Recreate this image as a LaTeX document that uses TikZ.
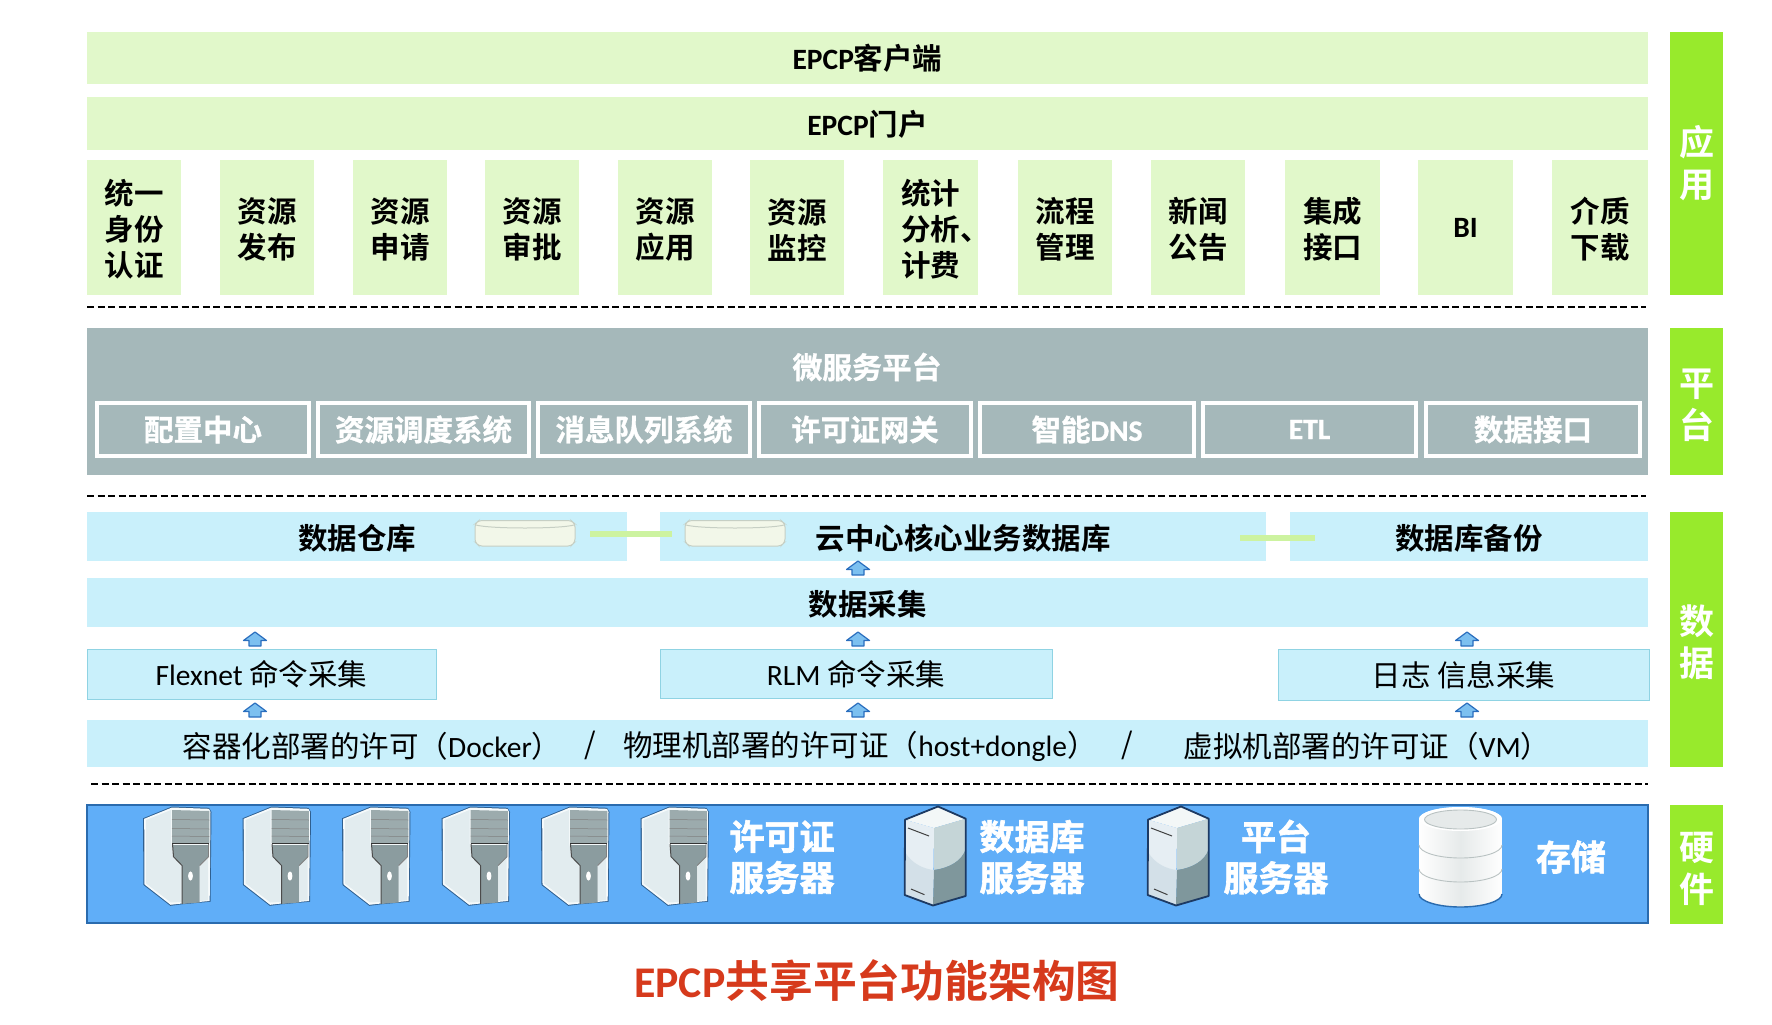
\documentclass[tikz,border=0pt]{standalone}
\usepackage{fontspec}
\setmainfont{Noto Sans CJK SC}[BoldFont=* Bold]
\newfontfamily\lat{Carlito}
\usetikzlibrary{arrows.meta,calc}
\definecolor{appgreen}{HTML}{E1F8CA}
\definecolor{sidegreen}{HTML}{98EA2C}
\definecolor{platgray}{HTML}{A5B8BA}
\definecolor{datablue}{HTML}{C9F0FB}
\definecolor{hwblue}{HTML}{60AEF8}
\definecolor{hwedge}{HTML}{2A6BAE}
\definecolor{titlered}{HTML}{D63A1C}
\definecolor{linkgreen}{HTML}{CDF3A0}
\definecolor{collectedge}{HTML}{8FD3E3}
\definecolor{arrowline}{HTML}{2A6EBE}
\definecolor{arrowfill}{HTML}{7CC0F0}
\definecolor{disk}{HTML}{F2F7E9}
\definecolor{diskedge}{HTML}{C6CFC4}
\definecolor{twlight}{HTML}{E2ECEF}
\definecolor{twwhite}{HTML}{F6FAFB}
\definecolor{twgrille}{HTML}{9CABAD}
\definecolor{twhandle}{HTML}{8B9C9F}
\definecolor{twedge}{HTML}{2F5F8F}
\definecolor{dbtop}{HTML}{F3F7F7}
\definecolor{dbleft}{HTML}{E6EEF3}
\definecolor{dbleftlow}{HTML}{D3E0E8}
\definecolor{dbright}{HTML}{C5D5D7}
\definecolor{dbrightlow}{HTML}{7F979C}
\definecolor{dbedge}{HTML}{1D3A63}
\definecolor{stmid}{HTML}{E6EAEA}
\definecolor{stline}{HTML}{B9C2C2}
\newcommand{\fs}[2]{\fontsize{#1}{#2}\selectfont}
\newcommand{\st}[1]{\rule{0pt}{#1pt}}
\newcommand{\wstroke}[1]{\special{pdf:literal direct 2 Tr #1 w 1 1 1 RG}}
\newcommand{\stroff}{\special{pdf:literal direct 0 Tr}}
\newcommand{\bx}[7]{\node[#6,minimum width={(#4-#2)*1pt},minimum height={(#5-#3)*1pt}] (#1) at ({(#2+#4)/2},{(#3+#5)/2}) {#7};}
\tikzset{
  base/.style={inner sep=0pt,outer sep=0pt,align=center},
  appbar/.style={base,fill=appgreen,font=\fs{29.5}{36}\bfseries},
  appbox/.style={base,fill=appgreen,font=\fs{29.5}{36}\bfseries},
  sidebar/.style={base,fill=sidegreen,text=white,font=\fs{35}{42}\bfseries},
  platbox/.style={base,fill=platgray},
  subbox/.style={base,fill=platgray,preaction={draw=black!38,line width=4.8pt},draw=white,line width=3.4pt,text=white,font=\fs{29.5}{34}\bfseries},
  databar/.style={base,fill=datablue,font=\fs{29.5}{34}\bfseries},
  collectbox/.style={base,fill=datablue,draw=collectedge,line width=1pt,font=\fs{29.5}{34}},
  licbox/.style={base,fill=datablue},
  lictext/.style={base,font=\fs{29.5}{34}},
  hwbox/.style={base,fill=hwblue,draw=hwedge,line width=1.2pt},
  hwlabel/.style={base,text=white,font=\fs{35}{41}\bfseries},
  sep/.style={black,line width=1.6pt,dash pattern=on 7pt off 3.5pt},
  greenlink/.style={linkgreen,line width=6pt},
  uparrow/.style={draw=arrowline,fill=arrowfill,line width=1.2pt,line join=round,
     to path={ ($(\tikztostart)+(-6,-3)$) -- ++(0,-5.5) -- ++(-5.5,0) -- ++(11.5,-8.5) -- ++(11.5,8.5) -- ++(-5.5,0) -- ++(0,5.5) -- cycle }},
  pics/pctower/.style={code={
    \fill[twedge] (0,12.3)--(29,0.5)--(66,1.8)--(68.5,6)--(67.5,95.7)--(39,98.3)--(27.3,99.8)--(0.5,79)--cycle;
    \fill[twwhite] (1.2,12.8)--(29,1.5)--(66,2.8)--(67.5,6)--(66.7,95)--(39,97.5)--(27.6,98.8)--(1.5,78.5)--cycle;
    \fill[twlight] (3,14)--(28,4)--(28,37)--(31,52)--(39,60)--(39,96)--(28,96.5)--(3.2,77.5)--cycle;
    \fill[twlight] (57,60)--(65,52)--(65,94)--(57,95)--cycle;
    \fill[twgrille] (29,4)--(66.3,5)--(66.3,37)--(29,37)--cycle;
    \draw[black!50,line width=.5pt] (29,13.5)--(66.3,14) (29,22.5)--(66.3,23) (29,30)--(66.3,30.5);
    \fill[twhandle] (29.5,39)--(65.5,39)--(65.5,50.7)--(56.7,59.5)--(56.7,96.5)--(39,97.8)--(39,59.5)--(30.5,50.7)--cycle;
    \draw[black!80,line width=1pt] (29,37.5)--(66.3,37.5);
    \draw[black!70,line width=1pt] (29.5,38)--(30.5,50.7)--(39,59.5)--(39,97.8);
    \draw[black!50,line width=.8pt] (65.5,38)--(65.5,50.7)--(56.7,59.5);
    \fill[white] (47.5,70) ellipse (2.4pt and 4.6pt);
  }},
  pics/dbtower/.style={code={
    \fill[dbtop] (34,0.5)--(1,13.7)--(30,22)--(61.7,12.7)--cycle;
    \fill[dbleft] (1,13.7)--(30,22)--(29,99.5)--(0.7,89)--cycle;
    \fill[dbleftlow] (1,46) .. controls (8,58) and (20,63) .. (30,64)--(29,99.5)--(0.7,89)--cycle;
    \fill[dbright] (30,22)--(61.7,12.7)--(61.7,43) .. controls (58,55) and (45,62) .. (30,64)--cycle;
    \fill[dbrightlow] (30,64) .. controls (45,62) and (58,55) .. (61.7,43)--(61.7,90)--(29,99.5)--cycle;
    \draw[dbedge,line width=1.8pt,line join=round] (34,0.5)--(1,13.7)--(0.7,89)--(29,99.5)--(61.7,90)--(61.7,12.7)--cycle;
    \draw[black!75,line width=1pt] (4,22)--(25,30) (7,83)--(20.5,88.7);
  }},
  pics/storage/.style={code={
    \path[left color=white,right color=white,middle color=stmid] (0,12) -- (0,87) arc[start angle=180,end angle=0,x radius=41.5,y radius=13] -- (83,12) arc[start angle=0,end angle=-180,x radius=41.5,y radius=12] -- cycle;
    \draw[hwedge,line width=1.4pt] (0,87) arc[start angle=180,end angle=0,x radius=41.5,y radius=13];
    \draw[stline,line width=.9pt] (0,38) arc[start angle=180,end angle=0,x radius=41.5,y radius=13];
    \draw[stline,line width=.9pt] (0,62) arc[start angle=180,end angle=0,x radius=41.5,y radius=13];
    \fill[white] (41.5,12) ellipse (41.5pt and 12pt);
    \draw[stline,fill=stmid,line width=.9pt] (41.5,12.5) ellipse (36pt and 9.5pt);
  }},
  pics/flatdisk/.style={code={
    \draw[rounded corners=3pt,fill=disk,draw=diskedge,line width=1pt] (0,4) -- (0,22) -- (4,26) -- (96,26) -- (100,22) -- (100,4) -- (96,0.5) -- (4,0.5) -- cycle;
    \draw[diskedge,line width=1pt] (1,5) .. controls (15,9) and (85,9) .. (99,5);
  }},
}
\begin{document}
\begin{tikzpicture}[x=1pt,y=-1pt]
\useasboundingbox (0,0) rectangle (1772,1025);
% ---- application layer
\bx{client}{87}{32}{1648}{84}{appbar}{\st{26}{\lat EPCP}客户端}
\bx{portal}{87}{97}{1648}{150}{appbar}{\st{26}{\lat EPCP}门户}
\bx{a1}{87}{160}{181}{295}{appbox}{\st{29.4}统一\\身份\\认证}
\bx{a2}{220}{160}{314}{295}{appbox}{\st{29.4}资源\\发布}
\bx{a3}{353}{160}{447}{295}{appbox}{\st{29.4}资源\\申请}
\bx{a4}{485}{160}{579}{295}{appbox}{\st{29.4}资源\\审批}
\bx{a5}{618}{160}{712}{295}{appbox}{\st{29.4}资源\\应用}
\bx{a6}{750}{160}{844}{295}{appbox}{\st{29.4}资源\\监控}
\bx{a7}{883}{160}{978}{295}{appbox}{\st{29.4}统计\\分析\rlap{、}\hspace*{8pt}\\计费}
\bx{a8}{1018}{160}{1112}{295}{appbox}{\st{29.4}流程\\管理}
\bx{a9}{1151}{160}{1245}{295}{appbox}{\st{29.4}新闻\\公告}
\bx{a10}{1285}{160}{1380}{295}{appbox}{\st{29.4}集成\\接口}
\bx{a11}{1418}{160}{1513}{295}{appbox}{{\lat BI}}
\bx{a12}{1552}{160}{1648}{295}{appbox}{\st{29.4}介质\\下载}
\bx{sapp}{1670}{32}{1723}{295}{sidebar}{应\\用}
\draw[sep] (87,307) -- (1646,307);
% ---- platform layer
\bx{plat}{87}{328}{1648}{475}{platbox}{}
\node[base,text=white,font=\fs{29.8}{34}\bfseries] (platt) at (867,367) {\wstroke{0.3}微服务平台\stroff};
\bx{p1}{97}{403}{309}{456}{subbox}{\wstroke{0.3}配置中心\stroff}
\bx{p2}{318}{403}{529}{456}{subbox}{\wstroke{0.3}资源调度系统\stroff}
\bx{p3}{538}{403}{750}{456}{subbox}{\wstroke{0.3}消息队列系统\stroff}
\bx{p4}{759}{403}{971}{456}{subbox}{\wstroke{0.3}许可证网关\stroff}
\bx{p5}{980}{403}{1194}{456}{subbox}{\wstroke{0.3}智能{\lat DNS}\stroff}
\bx{p6}{1203}{403}{1416}{456}{subbox}{\wstroke{0.3}{\lat ETL}\stroff}
\bx{p7}{1426}{403}{1640}{456}{subbox}{\wstroke{0.3}数据接口\stroff}
\bx{splat}{1670}{328}{1723}{475}{sidebar}{\st{35}平\\台}
\draw[sep] (87,496) -- (1646,496);
% ---- data layer
\bx{dw}{87}{512}{627}{561}{databar}{\st{28}数据仓库}
\bx{core}{660}{512}{1266}{561}{databar}{\st{28}云中心核心业务数据库}
\bx{bak}{1290}{512}{1648}{561}{databar}{\st{28}数据库备份}
\pic (disk1) at (475,520) {flatdisk};
\pic (disk2) at (685,520) {flatdisk};
\coordinate (l1a) at (590,534);
\coordinate (l1b) at (672,534);
\coordinate (l2a) at (1240,538);
\coordinate (l2b) at (1315,538);
\draw[greenlink] (l1a) -- (l1b);
\draw[greenlink] (l2a) -- (l2b);
\bx{collect}{87}{578}{1648}{627}{databar}{\st{29}数据采集}
\bx{flex}{87}{649}{436}{699}{collectbox}{\st{26}{\lat Flexnet} 命令采集}
\bx{rlm}{660}{649}{1052}{698}{collectbox}{\st{26.5}{\lat RLM} 命令采集}
\bx{logc}{1278}{649}{1649}{700}{collectbox}{\st{26.5}日志 信息采集}
\bx{lic}{87}{720}{1648}{767}{licbox}{}
\node[lictext] (t1) at (372,745) {\st{27.4}容器化部署的许可（{\lat Docker}）};
\node[lictext] (s1) at (590,745) {/};
\node[lictext] (t2) at (860,745) {\st{27.4}物理机部署的许可证（{\lat host+dongle}）};
\node[lictext] (s2) at (1127,745) {/};
\node[lictext] (t3) at (1367,745) {\st{27.4}虚拟机部署的许可证（{\lat VM}）};
\bx{sdata}{1670}{512}{1723}{767}{sidebar}{\st{36}数\\据}
\coordinate (xa) at (255,0);
\coordinate (xb) at (858,0);
\coordinate (xc) at (1467,0);
\draw[uparrow] (xb |- collect.north) to (xb |- core.south);
\draw[uparrow] (xa |- flex.north) to (xa |- collect.south);
\draw[uparrow] (xb |- rlm.north) to (xb |- collect.south);
\draw[uparrow] (xc |- logc.north) to (xc |- collect.south);
\draw[uparrow] (xa |- lic.north) to (xa |- flex.south);
\draw[uparrow] (xb |- lic.north) to (xb |- rlm.south);
\draw[uparrow] (xc |- lic.north) to (xc |- logc.south);
\draw[sep] (91,784) -- (1648,784);
% ---- hardware layer
\bx{hw}{87}{805}{1648}{923}{hwbox}{}
\pic (tw1) at (143,806) {pctower};
\pic (tw2) at (242.5,806) {pctower};
\pic (tw3) at (342,806) {pctower};
\pic (tw4) at (441.5,806) {pctower};
\pic (tw5) at (541,806) {pctower};
\pic (tw6) at (640.5,806) {pctower};
\node[hwlabel] (h1) at (782,857) {\wstroke{0.6}许可证\\服务器\stroff};
\pic (db) at (904,806) {dbtower};
\node[hwlabel] (h2) at (1032,857) {\wstroke{0.6}数据库\\服务器\stroff};
\pic (pf) at (1147,806) {dbtower};
\node[hwlabel] (h3) at (1276,857) {\wstroke{0.6}平台\\服务器\stroff};
\pic (st) at (1419,807) {storage};
\node[hwlabel] (h4) at (1571,857) {\wstroke{0.6}存储\stroff};
\bx{shw}{1670}{805}{1723}{924}{sidebar}{\st{38}硬\\件}
% ---- title
\node[base,text=titlered,font=\fs{43.8}{50}\bfseries] (title) at (877,981) {{\lat EPCP}共享平台功能架构图};
\end{tikzpicture}
\end{document}
